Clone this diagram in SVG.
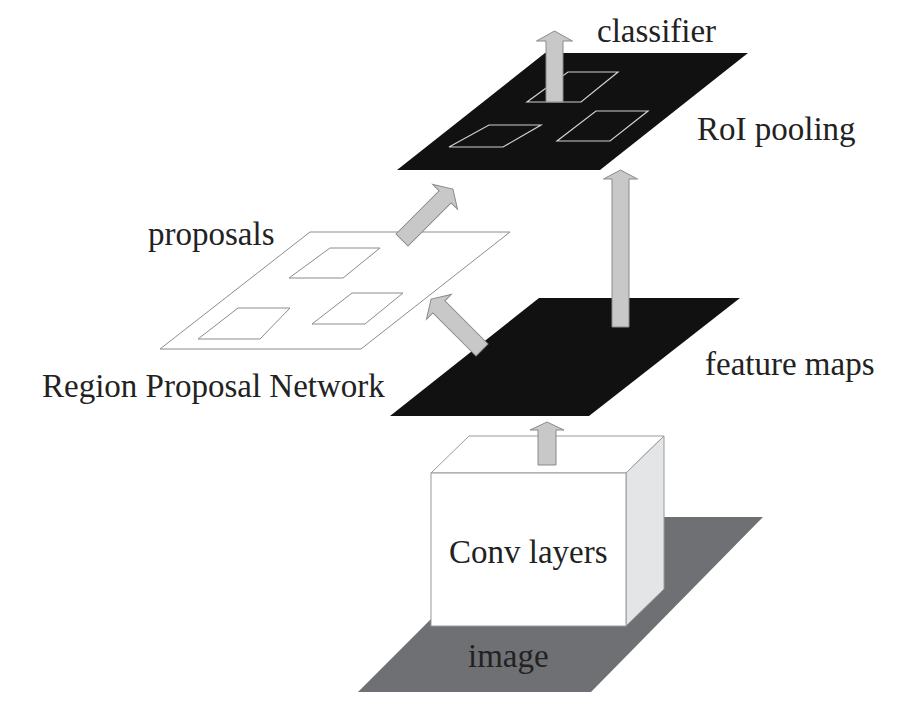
<svg xmlns="http://www.w3.org/2000/svg" width="918" height="722" viewBox="0 0 918 722">
<style>
text{font-family:"Liberation Serif","Times New Roman",serif;font-size:33px;fill:#222}
.blk{fill:#111}
.roi{fill:none;stroke:#d0d0d0;stroke-width:1.2}
.prop{fill:#fff;stroke:#8c8c8c;stroke-width:1}
.arr{fill:#c8c8c8;stroke:#8a8a8a;stroke-width:1}
.box{stroke:#9a9a9a;stroke-width:1}
</style>
<rect width="918" height="722" fill="#fff"/>
<g id="image">
<polygon points="533,517 763,517 591,692 358,692" fill="#6f7073"/>
<text x="468" y="667">image</text>
</g>
<g id="conv">
<polygon class="box" points="431,473 469,436 664,436 626,473" fill="#fff"/>
<polygon class="box" points="626,473 664,436 664,589 626,626" fill="#e4e5e6"/>
<rect class="box" x="431" y="473" width="195" height="153" fill="#fff"/>
<text x="449" y="563">Conv layers</text>
</g>
<g id="feature-maps">
<polygon class="blk" points="539,298 740,298 589,416 390,416"/>
<text x="705" y="375">feature maps</text>
</g>
<g id="proposals">
<polygon class="prop" points="310,232 510,232 361,349 160,349"/>
<polygon class="prop" points="330,248 380,248 343,278 289,278"/>
<polygon class="prop" points="352,293 403,293 365,324 312,324"/>
<polygon class="prop" points="238,308 290,308 260,339 198,339"/>
<text x="148" y="245">proposals</text>
</g>
<g id="rpn">
<text x="42" y="397">Region Proposal Network</text>
</g>
<g id="roi-pooling">
<polygon class="blk" points="545,53 748,53 600,170 397,170"/>
<polygon class="roi" points="568,72 618,72 581,102 527,102"/>
<polygon class="roi" points="489,125 541,125 503,147 449,147"/>
<polygon class="roi" points="596,111 648,111 610,141 557,141"/>
<text x="697" y="140">RoI pooling</text>
</g>
<g id="classifier">
<text x="597" y="42">classifier</text>
</g>
<g id="connectors">
<path class="arr" transform="translate(554.5,102)" d="M-8.5,0 L-8.5,-61 L-18,-61 L0,-71 L18,-61 L8.5,-61 L8.5,0 Z"/>
<path class="arr" transform="translate(620.5,327)" d="M-8.5,0 L-8.5,-148 L-17,-148 L0,-157 L17,-148 L8.5,-148 L8.5,0 Z"/>
<path class="arr" transform="translate(547,465)" d="M-9,0 L-9,-35 L-17,-35 L0,-43 L17,-35 L9,-35 L9,0 Z"/>
<path class="arr" transform="translate(402,240) rotate(45)" d="M-8.5,0 L-8.5,-61 L-17.5,-61 L0,-72 L17.5,-61 L8.5,-61 L8.5,0 Z"/>
<path class="arr" transform="translate(482,350) rotate(-45)" d="M-8.5,0 L-8.5,-61 L-17.5,-61 L0,-72 L17.5,-61 L8.5,-61 L8.5,0 Z"/>
</g>
</svg>
